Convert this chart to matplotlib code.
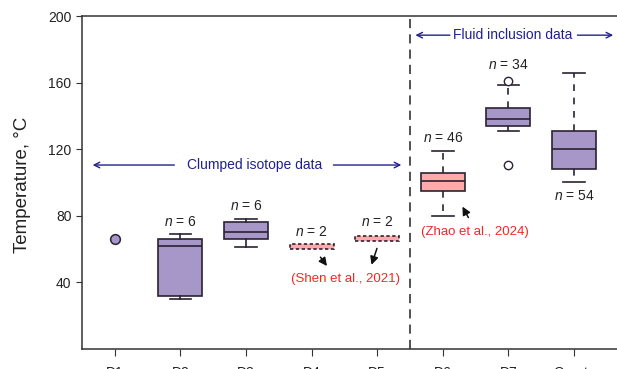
import matplotlib
matplotlib.use("Agg")
import matplotlib.pyplot as plt

plt.rcParams["font.family"] = ["Liberation Sans", "DejaVu Sans"]
plt.rcParams["mathtext.fontset"] = "custom"
plt.rcParams["mathtext.it"] = "Liberation Sans:italic"
plt.rcParams["mathtext.rm"] = "Liberation Sans"

# sample groups and box statistics (temperature, degC)
groups = ["D1", "D2", "D3", "D4", "D5", "D6", "D7", "Quartz"]
d1_value = 66
# whislo, q1, med, q3, whishi
d2_stats = [30, 32, 62, 66, 69]
d3_stats = [61, 66, 70, 76, 78]
d4_stats = [60, 60, 61.5, 63, 63]
d5_stats = [65, 65, 66.5, 68, 68]
d6_stats = [80, 95, 101, 106, 119]
d7_stats = [131, 134, 138, 144.5, 158.5]
d7_fliers = [161, 110.5]
qz_stats = [100.5, 108, 120, 131, 166]
counts = {"D2": 6, "D3": 6, "D4": 2, "D5": 2, "D6": 46, "D7": 34, "Quartz": 54}

purple = "#a797c8"
pink = "#ffaaaa"
edge = "#2b2233"
navy = "#202090"
red = "#ee2a24"


def stat(vals, fliers=()):
    lo, q1, med, q3, hi = vals
    return dict(whislo=lo, q1=q1, med=med, q3=q3, whishi=hi, fliers=list(fliers))


fig = plt.figure(figsize=(6.17, 3.69), dpi=100)
ax = fig.add_axes([0.1329, 0.0542, 0.9037, 0.9024])

common = dict(patch_artist=True, widths=0.67, capwidths=0.33,
              medianprops=dict(color=edge, lw=1.2),
              capprops=dict(color=edge, lw=1.2),
              flierprops=dict(marker="o", mfc="white", mec=edge, ms=6, mew=1.0))

# clumped isotope boxes, solid whiskers
ax.bxp([stat(d2_stats), stat(d3_stats)], positions=[2, 3],
       boxprops=dict(facecolor=purple, edgecolor=edge, lw=1.2),
       whiskerprops=dict(color=edge, lw=1.2), **common)

# published values, dotted outline
ax.bxp([stat(d4_stats), stat(d5_stats)], positions=[4, 5], showcaps=False,
       boxprops=dict(facecolor=pink, edgecolor=edge, lw=1.2, ls=(0, (2, 1.5))),
       whiskerprops=dict(color=edge, lw=0),
       **{k: v for k, v in common.items() if k != "medianprops"},
       medianprops=dict(lw=0))

# fluid inclusion boxes, dashed whiskers
ax.bxp([stat(d6_stats)], positions=[6],
       boxprops=dict(facecolor=pink, edgecolor=edge, lw=1.2),
       whiskerprops=dict(color=edge, lw=1.2, ls=(0, (4, 4))), **common)
ax.bxp([stat(d7_stats, d7_fliers), stat(qz_stats)], positions=[7, 8],
       boxprops=dict(facecolor=purple, edgecolor=edge, lw=1.2),
       whiskerprops=dict(color=edge, lw=1.2, ls=(0, (4, 4))), **common)

# single measurement for D1
ax.plot([1], [d1_value], "o", mfc=purple, mec=edge, ms=7, mew=1.1)

# sample counts
n_pos = {"D2": 76, "D3": 86, "D4": 70.5, "D5": 76, "D6": 126.5, "D7": 170.5, "Quartz": 92}
for g, n in counts.items():
    x = groups.index(g) + 1
    ax.text(x, n_pos[g], f"$n$ = {n}", ha="center", va="center", fontsize=10, color="#222222")

# divider between the two data types
ax.axvline(5.5, color="#222222", lw=1.1, ls=(0, (6, 4)))

# range arrows
arr = dict(arrowstyle="->", color=navy, lw=1.0, mutation_scale=10)
ax.text(3.13, 110.5, "Clumped isotope data", color=navy, fontsize=10, ha="center", va="center")
ax.annotate("", xy=(0.62, 110.5), xytext=(1.95, 110.5), arrowprops=arr)
ax.annotate("", xy=(5.41, 110.5), xytext=(4.29, 110.5), arrowprops=arr)
ax.text(7.07, 188.5, "Fluid inclusion data", color=navy, fontsize=10, ha="center", va="center")
ax.annotate("", xy=(5.54, 188.5), xytext=(6.15, 188.5), arrowprops=arr)
ax.annotate("", xy=(8.64, 188.5), xytext=(8.01, 188.5), arrowprops=arr)

# literature sources
blk = dict(arrowstyle="-|>", color="#111111", lw=1.1, mutation_scale=12)
ax.text(4.52, 42, "(Shen et al., 2021)", color=red, fontsize=9.5, ha="center", va="center")
ax.annotate("", xy=(4.26, 48.5), xytext=(4.11, 56.5), arrowprops=blk)
ax.annotate("", xy=(4.90, 49), xytext=(5.01, 62), arrowprops=blk)
ax.text(6.49, 70.5, "(Zhao et al., 2024)", color=red, fontsize=9.5, ha="center", va="center")
ax.annotate("", xy=(6.28, 87), xytext=(6.41, 77.5), arrowprops=blk)

ax.set_xlim(0.5, 9.0)
ax.set_ylim(0, 200)
ax.set_xticks(range(1, len(groups) + 1))
ax.set_xticklabels(groups, fontsize=10, color="#222222")
ax.set_yticks([40, 80, 120, 160, 200])
ax.tick_params(axis="y", labelsize=10, labelcolor="#222222", direction="out", length=4, color="#333333")
ax.tick_params(axis="x", direction="out", length=5, pad=7, color="#333333")
for s in ["left", "bottom", "top"]:
    ax.spines[s].set_color("#333333")
    ax.spines[s].set_linewidth(1.1)
ax.spines["right"].set_visible(False)

fig.text(0.036, 0.50, "Temperature, °C", rotation=90, fontsize=13.5, ha="center", va="center",
         color="#222222")

fig.savefig("out.png", dpi=100)
